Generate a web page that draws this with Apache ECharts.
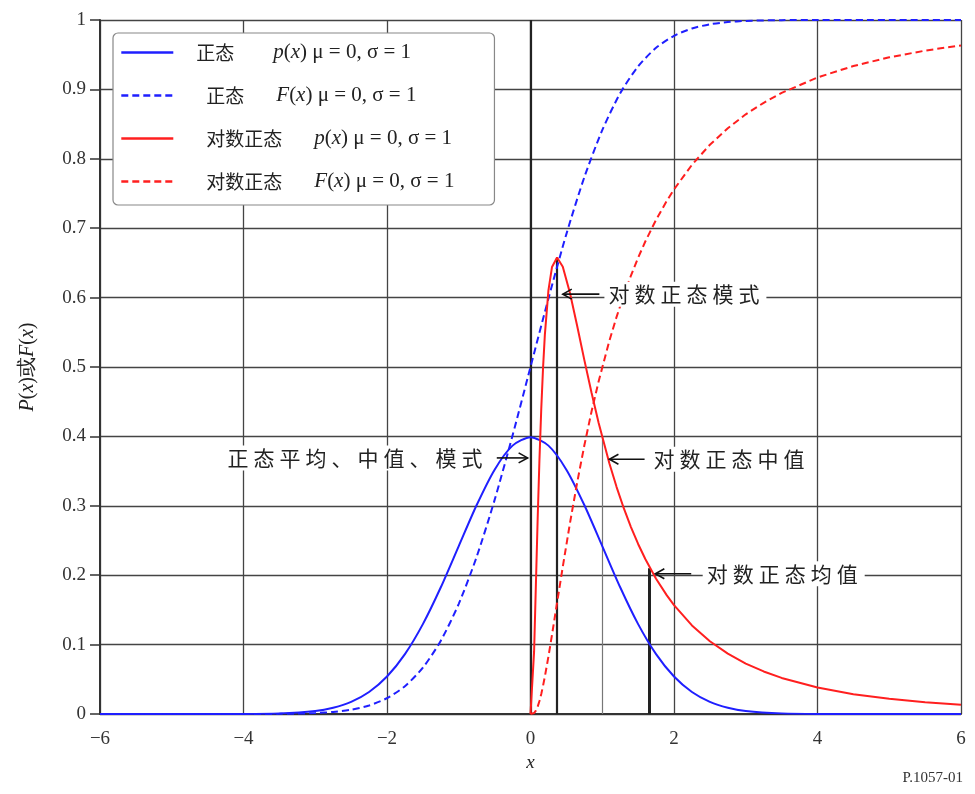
<!DOCTYPE html>
<html>
<head>
<meta charset="utf-8">
<script src="https://cdn.jsdelivr.net/npm/echarts@6/dist/echarts.min.js"></script>
<style>
  html, body { margin: 0; padding: 0; background: #fff; }
  #chart { width: 975px; height: 794px; }
</style>
</head>
<body>
<div id="chart"></div>
<script>
// values
var normX   = [-6, -5, -4, -3.5, -3, -2.75, -2.5, -2.25, -2, -1.75, -1.5, -1.25, -1, -0.75, -0.5, -0.25, 0,
               0.25, 0.5, 0.75, 1, 1.25, 1.5, 1.75, 2, 2.25, 2.5, 2.75, 3, 3.5, 4, 5, 6];
var normPdf = [0, 0, 0.0001, 0.0009, 0.0044, 0.0091, 0.0175, 0.0317, 0.054, 0.0863, 0.1295, 0.1826, 0.242, 0.3011, 0.3521, 0.3867, 0.3989,
               0.3867, 0.3521, 0.3011, 0.242, 0.1826, 0.1295, 0.0863, 0.054, 0.0317, 0.0175, 0.0091, 0.0044, 0.0009, 0.0001, 0, 0];
var normCdf = [0, 0, 0, 0.0002, 0.0013, 0.003, 0.0062, 0.0122, 0.0228, 0.0401, 0.0668, 0.1056, 0.1587, 0.2266, 0.3085, 0.4013, 0.5,
               0.5987, 0.6915, 0.7734, 0.8413, 0.8944, 0.9332, 0.9599, 0.9772, 0.9878, 0.9938, 0.997, 0.9987, 0.9998, 1, 1, 1];

var logX   = [0, 0.05, 0.075, 0.1, 0.125, 0.15, 0.175, 0.2, 0.25, 0.3, 0.37, 0.45, 0.55, 0.65, 0.75, 0.85, 0.95,
              1.1, 1.2, 1.3, 1.4, 1.5, 1.6, 1.75, 1.9, 2, 2.25, 2.5, 2.75, 3, 3.25, 3.5, 4, 4.5, 5, 5.5, 6];
var logPdf = [0, 0.0898, 0.1859, 0.2816, 0.3673, 0.4399, 0.499, 0.5463, 0.6104, 0.6442, 0.6577, 0.6445, 0.6067, 0.5594, 0.5103, 0.4632, 0.4194,
              0.361, 0.327, 0.2965, 0.2693, 0.245, 0.2233, 0.1949, 0.1709, 0.1569, 0.1276, 0.1049, 0.087, 0.0727, 0.0613, 0.052, 0.0381, 0.0286, 0.0219, 0.017, 0.0134];
var logCdf = [0, 0.0014, 0.0048, 0.0107, 0.0188, 0.0289, 0.0407, 0.0538, 0.0828, 0.1143, 0.1601, 0.2122, 0.275, 0.3333, 0.3868, 0.4355, 0.4795,
              0.538, 0.5723, 0.6035, 0.6318, 0.6574, 0.6808, 0.7121, 0.7395, 0.7559, 0.7913, 0.8202, 0.8441, 0.8641, 0.8807, 0.8949, 0.9172, 0.9337, 0.9462, 0.9559, 0.9634];

// vertical marker lines: x = 0, log-normal mode, median, mean
var markerX   = [0, 0.37, 1, 1.65];
var markerTop = [1, 0.657, 0.399, 0.21];

var seriesNames = ['正态 p(x)', '正态 F(x)', '对数正态 p(x)', '对数正态 F(x)'];

// annotations: [text, text anchor x, y, arrow tail x, arrow tip x]
var notes = [
  ['对数正态模式', 1.03, 0.605, 0.96, 0.45],
  ['正态平均、中值、模式', -0.57, 0.369, -0.47, -0.04],
  ['对数正态中值', 1.66, 0.367, 1.59, 1.10],
  ['对数正态均值', 2.40, 0.202, 2.24, 1.74]
];

function pairs(xs, ys) {
  return xs.map(function (x, i) { return [x, ys[i]]; });
}

var serif = '"Liberation Serif", "DejaVu Serif", serif';
var cjk = '"Noto Sans CJK SC", sans-serif';
var blue = '#1f1fff', red = '#ff1f1f';

var chart = echarts.init(document.getElementById('chart'));

var legendText = {
  '正态 p(x)':     '{a|正态}{i|p}{t|(}{i|x}{t|) μ = 0, σ = 1}',
  '正态 F(x)':     '{b|正态}{i|F}{t|(}{i|x}{t|) μ = 0, σ = 1}',
  '对数正态 p(x)': '{c|对数正态}{i|p}{t|(}{i|x}{t|) μ = 0, σ = 1}',
  '对数正态 F(x)': '{c|对数正态}{i|F}{t|(}{i|x}{t|) μ = 0, σ = 1}'
};

function lineSeries(name, data, color, dashed, smooth, extra) {
  var s = {
    name: name,
    type: 'line',
    data: data,
    symbol: 'none',
    smooth: smooth,
    lineStyle: { color: color, width: 2, type: dashed ? [7, 4] : 'solid' },
    itemStyle: { color: color },
    z: 3
  };
  return Object.assign(s, extra || {});
}

var markerLines = markerX.map(function (x, i) {
  var w = i === 0 ? 2.2 : (i === 2 ? 1.2 : (i === 3 ? 3 : 2.2));
  var c = i === 2 ? '#777' : '#222';
  return [
    { coord: [x, 0], lineStyle: { color: c, width: w, type: 'solid' } },
    { coord: [x, markerTop[i]] }
  ];
});

var option = {
  animation: false,
  backgroundColor: '#fff',
  grid: { left: 100, right: 14, top: 20, bottom: 80 },
  legend: {
    data: seriesNames,
    orient: 'vertical',
    left: 113,
    top: 33,
    padding: [9, 40, 13, 7],
    itemWidth: 52,
    itemHeight: 14,
    itemGap: 22,
    backgroundColor: '#fff',
    borderColor: '#888',
    borderWidth: 1.2,
    borderRadius: 5,
    itemStyle: { opacity: 0 },
    lineStyle: { width: 2.6 },
    formatter: function (name) { return legendText[name]; },
    textStyle: {
      color: '#222',
      rich: {
        a: { fontFamily: cjk, fontSize: 19, padding: [0, 0, 0, 18], width: 77, color: '#222' },
        b: { fontFamily: cjk, fontSize: 19, padding: [0, 0, 0, 28], width: 70, color: '#222' },
        c: { fontFamily: cjk, fontSize: 19, padding: [0, 0, 0, 28], width: 108, color: '#222' },
        i: { fontFamily: serif, fontSize: 21, fontStyle: 'italic', color: '#222' },
        t: { fontFamily: serif, fontSize: 21, color: '#222' }
      }
    }
  },
  xAxis: {
    type: 'value',
    min: -6,
    max: 6,
    interval: 2,
    name: 'x',
    nameLocation: 'middle',
    nameGap: 30,
    nameTextStyle: { fontFamily: serif, fontSize: 19, fontStyle: 'italic', color: '#222' },
    axisLine: { onZero: false, lineStyle: { color: '#333', width: 2 } },
    axisTick: { show: false },
    axisLabel: {
      fontFamily: serif, fontSize: 19, color: '#333', margin: 16,
      formatter: function (v) { return String(v).replace('-', '\u2212'); }
    },
    splitLine: { show: true, lineStyle: { color: '#444', width: 1.3 } }
  },
  yAxis: {
    type: 'value',
    min: 0,
    max: 1,
    interval: 0.1,
    name: '{i|P}{t|(}{i|x}{t|)或}{i|F}{t|(}{i|x}{t|)}',
    nameLocation: 'middle',
    nameGap: 62,
    nameTextStyle: {
      rich: {
        i: { fontFamily: serif, fontSize: 20, fontStyle: 'italic', color: '#222' },
        t: { fontFamily: serif, fontSize: 20, color: '#222' }
      }
    },
    axisLine: { show: true, onZero: false, lineStyle: { color: '#333', width: 2 } },
    axisTick: { show: true, length: 10, lineStyle: { color: '#333', width: 1.5 } },
    axisLabel: { fontFamily: serif, fontSize: 19, color: '#333', margin: 14 },
    splitLine: { show: true, lineStyle: { color: '#444', width: 1.3 } }
  },
  series: [
    lineSeries(seriesNames[0], pairs(normX, normPdf), blue, false, 0.25),
    lineSeries(seriesNames[1], pairs(normX, normCdf), blue, true, 0.25),
    lineSeries(seriesNames[2], pairs(logX, logPdf), red, false, false, {
      markLine: { silent: true, symbol: 'none', label: { show: false }, data: markerLines, z: 2 }
    }),
    lineSeries(seriesNames[3], pairs(logX, logCdf), red, true, false)
  ]
};

chart.setOption(option);

// annotations positioned through the grid's own scales
function spaced(text) {
  return text.split('').map(function (c) { return '{s|' + c + '}'; }).join('');
}

var g = [];
notes.forEach(function (n, i) {
  var anchor = chart.convertToPixel({ gridIndex: 0 }, [n[1], n[2]]);
  var tail = chart.convertToPixel({ gridIndex: 0 }, [n[3], n[2]]);
  var tip = chart.convertToPixel({ gridIndex: 0 }, [n[4], n[2]]);
  var d = tip[0] < tail[0] ? 1 : -1;
  g.push({
    id: 'note' + i,
    type: 'text',
    x: anchor[0],
    y: anchor[1],
    z: 20,
    style: {
      text: spaced(n[0]),
      rich: { s: { fontFamily: cjk, fontSize: 21, fill: '#222', padding: [0, 5, 0, 0] } },
      align: i === 1 ? 'right' : 'left',
      verticalAlign: 'middle',
      backgroundColor: '#fff',
      padding: [2, 2, 2, 4]
    }
  });
  g.push({
    id: 'shaft' + i,
    type: 'line',
    z: 20,
    shape: { x1: tail[0], y1: tail[1], x2: tip[0], y2: tip[1] },
    style: { stroke: '#111', lineWidth: 1.6 }
  });
  g.push({
    id: 'head' + i,
    type: 'polyline',
    z: 20,
    shape: { points: [[tip[0] + d * 9, tip[1] - 5], [tip[0], tip[1]], [tip[0] + d * 9, tip[1] + 5]] },
    style: { stroke: '#111', lineWidth: 1.6, fill: null }
  });
});
g.push({
  id: 'figno',
  type: 'text',
  right: 12,
  bottom: 8,
  style: { text: 'P.1057-01', fontFamily: serif, fontSize: 15, fill: '#333' }
});
chart.setOption({ graphic: g });
</script>
</body>
</html>
